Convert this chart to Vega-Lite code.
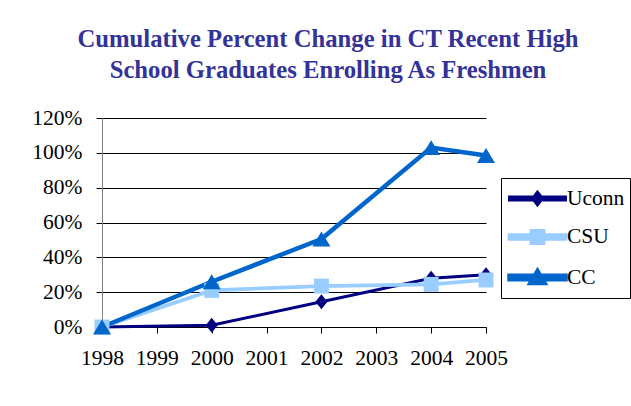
{
  "$schema": "https://vega.github.io/schema/vega-lite/v6.json",
  "width": 384,
  "height": 209,
  "autosize": {"type": "none"},
  "padding": {"left": 102, "top": 118, "right": 145, "bottom": 79},
  "background": "white",
  "title": {
    "text": ["Cumulative Percent Change in CT Recent High", "School  Graduates Enrolling As Freshmen"],
    "font": "Liberation Serif",
    "fontSize": 24.7,
    "fontWeight": "bold",
    "color": "#333399",
    "lineHeight": 31,
    "anchor": "middle",
    "frame": "group",
    "dx": 34,
    "offset": 24
  },
  "data": {
    "values": [
      {"year": 1998, "series": "Uconn", "value": 0},
      {"year": 2000, "series": "Uconn", "value": 0.01},
      {"year": 2002, "series": "Uconn", "value": 0.145},
      {"year": 2004, "series": "Uconn", "value": 0.28},
      {"year": 2005, "series": "Uconn", "value": 0.30},
      {"year": 1998, "series": "CSU", "value": 0},
      {"year": 2000, "series": "CSU", "value": 0.21},
      {"year": 2002, "series": "CSU", "value": 0.235},
      {"year": 2004, "series": "CSU", "value": 0.245},
      {"year": 2005, "series": "CSU", "value": 0.27},
      {"year": 1998, "series": "CC", "value": 0},
      {"year": 2000, "series": "CC", "value": 0.26},
      {"year": 2002, "series": "CC", "value": 0.505},
      {"year": 2004, "series": "CC", "value": 1.03},
      {"year": 2005, "series": "CC", "value": 0.985}
    ]
  },
  "encoding": {
    "x": {
      "field": "year",
      "type": "quantitative",
      "scale": {"domain": [1998, 2005], "nice": false, "zero": false},
      "axis": {
        "title": null,
        "values": [1998, 1999, 2000, 2001, 2002, 2003, 2004, 2005],
        "format": "d",
        "grid": false,
        "domainColor": "black",
        "tickColor": "black",
        "tickSize": 6,
        "labelPadding": 14,
        "labelFlush": false,
        "labelOverlap": false,
        "zindex": 0
      }
    },
    "y": {
      "field": "value",
      "type": "quantitative",
      "scale": {"domain": [0, 1.2], "nice": false},
      "axis": {
        "title": null,
        "values": [0, 0.2, 0.4, 0.6, 0.8, 1.0, 1.2],
        "format": ".0%",
        "grid": true,
        "gridColor": "black",
        "gridOpacity": 1,
        "domainColor": "#808080",
        "tickColor": "black",
        "tickSize": 6,
        "labelPadding": 14,
        "labelFlush": false,
        "zindex": 0
      }
    },
    "color": {
      "field": "series",
      "type": "nominal",
      "scale": {"domain": ["Uconn", "CSU", "CC"], "range": ["#000080", "#99CCFF", "#0066CC"]},
      "legend": {
        "title": null,
        "orient": "none",
        "legendX": 399,
        "legendY": 60,
        "padding": 5,
        "strokeColor": "black",
        "fillColor": "white",
        "symbolSize": 784,
        "rowPadding": 10,
        "labelOffset": 28,
        "labelFont": "Liberation Serif",
        "labelFontSize": 21.5,
        "labelColor": "black",
        "labelLimit": 300,
        "encode": {
          "symbols": {
            "update": {
              "shape": {"signal": "datum.value === 'Uconn' ? 'M-0.93,-0.1H3.07V0.1H-0.93Z M1.07,-0.45L1.42,0L1.07,0.45L0.72,0Z' : datum.value === 'CSU' ? 'M-0.93,-0.14H3.07V0.14H-0.93Z M0.64,-0.43H1.5V0.43H0.64Z' : 'M-0.93,-0.12H3.07V0.12H-0.93Z M1.07,-0.45L1.57,0.4H0.57Z'"},
              "size": {"value": 784},
              "fill": {"scale": "color", "field": "value"},
              "fillOpacity": {"value": 1},
              "strokeWidth": {"value": 0},
              "opacity": {"value": 1}
            }
          }
        }
      }
    }
  },
  "layer": [
    {
      "mark": {"type": "line"},
      "encoding": {
        "strokeWidth": {
          "field": "series",
          "type": "nominal",
          "scale": {"domain": ["Uconn", "CSU", "CC"], "range": [3, 4.5, 4]},
          "legend": null
        }
      }
    },
    {
      "transform": [{"filter": "datum.series === 'Uconn'"}],
      "mark": {"type": "point", "filled": true, "opacity": 1, "size": 324, "shape": "M-0.67,0L0,-0.83L0.67,0L0,0.83Z"},
      "encoding": {}
    },
    {
      "transform": [{"filter": "datum.series === 'CSU'"}],
      "mark": {"type": "point", "filled": true, "opacity": 1, "size": 324, "shape": "M-0.83,-0.83H0.83V0.83H-0.83Z"},
      "encoding": {}
    },
    {
      "transform": [{"filter": "datum.series === 'CC'"}],
      "mark": {"type": "point", "filled": true, "opacity": 1, "size": 324, "shape": "M0,-0.83L1,0.83H-1Z"},
      "encoding": {}
    }
  ],
  "config": {
    "view": {"stroke": null},
    "axis": {
      "labelFont": "Liberation Serif",
      "labelFontSize": 21.5,
      "labelColor": "black"
    }
  }
}
